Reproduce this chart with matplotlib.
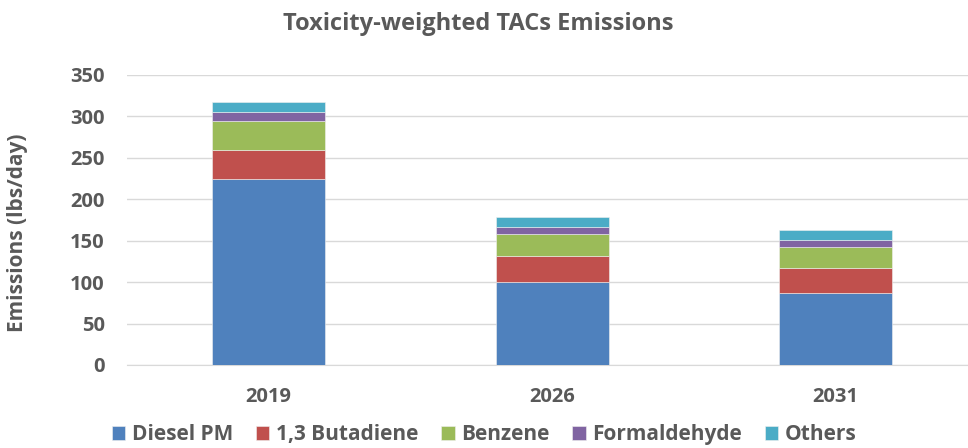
import matplotlib

matplotlib.use("Agg")
import matplotlib.pyplot as plt
import numpy as np

plt.rcParams.update({
    "font.family": "sans-serif",
    "font.sans-serif": ["Open Sans", "DejaVu Sans"],
    "font.weight": "bold",
    "text.color": "#595959",
})

years = ["2019", "2026", "2031"]
series = ["Diesel PM", "1,3 Butadiene", "Benzene", "Formaldehyde", "Others"]
diesel_pm = [225, 100, 87]
butadiene = [35, 31, 30.5]
benzene = [34, 27, 25]
formaldehyde = [11, 8.5, 8]
others = [12, 12, 12.5]

COLORS = ["#4F81BD", "#C0504D", "#9BBB59", "#8064A2", "#4BACC6"]
GREY = "#595959"

fig = plt.figure(figsize=(9.68, 4.48), dpi=100)
# plot area runs past the right edge of the image, as in the source crop
ax = fig.add_axes([0.1312, 0.1853, 0.8786, 0.6473])

x = np.arange(len(years))
bottom = np.zeros(len(years))
for name, vals, c in zip(series, [diesel_pm, butadiene, benzene, formaldehyde, others], COLORS):
    ax.bar(x, vals, width=0.4, bottom=bottom, color=c, label=name,
           edgecolor="#f0f0f0", linewidth=0.4, zorder=3)
    bottom += np.array(vals)

ax.set_xlim(-0.5, len(years) - 0.5)
ax.set_ylim(0, 350)
ax.set_yticks(range(0, 351, 50))
ax.set_xticks(x)
ax.set_xticklabels(years)
ax.yaxis.grid(True, color="#D9D9D9", lw=1, zorder=0)
for s in ["top", "right", "left"]:
    ax.spines[s].set_visible(False)
ax.spines["bottom"].set_color("#D9D9D9")
ax.tick_params(axis="both", length=0, labelsize=14.5, colors=GREY)
ax.tick_params(axis="y", pad=16)
ax.tick_params(axis="x", pad=16)
for t in ax.get_xticklabels() + ax.get_yticklabels():
    t.set_fontweight("bold")

ax.set_ylabel("Emissions (lbs/day)", fontsize=15, fontweight="bold", color=GREY)
ax.yaxis.set_label_coords(-0.1164, 0.457)
fig.text(0.494, 0.946, "Toxicity-weighted TACs Emissions", ha="center", va="center",
         fontsize=17, fontweight="bold", color=GREY)

fig.legend(loc="center", bbox_to_anchor=(0.5, 0.03), ncol=5, frameon=False,
           handlelength=0.65, handleheight=0.65, handletextpad=0.3,
           columnspacing=1.1, prop={"weight": "bold", "size": 15})

fig.savefig("out.png", dpi=100)
